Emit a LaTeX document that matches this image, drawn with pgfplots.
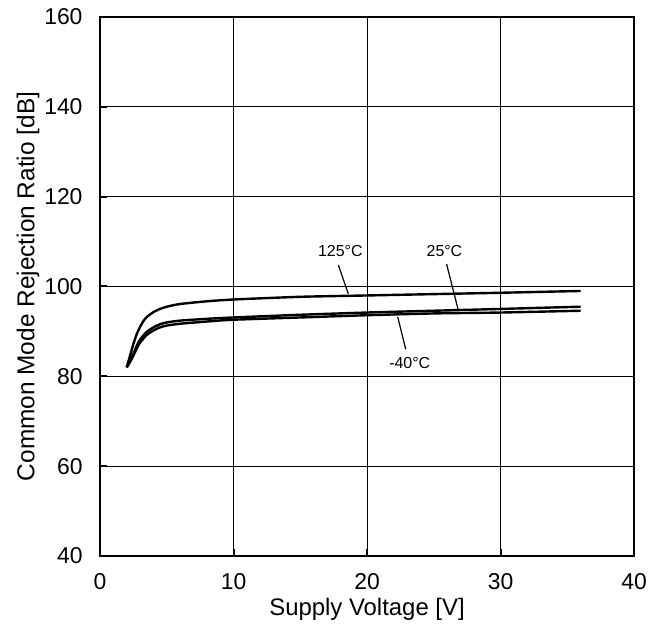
\documentclass[border=0pt]{standalone}
\usepackage{fontspec}
\setmainfont{Liberation Sans}
\usepackage{pgfplots}
\pgfplotsset{compat=1.18}

\pgfplotstableread{
V    cmrr
2    82
2.25 84.6
2.5  87.2
2.75 89.4
3    91.0
3.25 92.3
3.5  93.2
4    94.3
4.5  95.0
5    95.5
6    96.1
8    96.7
10   97.1
15   97.7
20   98.0
25   98.3
30   98.6
33   98.8
36   99.0
}\hot

\pgfplotstableread{
V    cmrr
2    82
2.25 83.4
2.5  85
2.75 86.8
3    88.2
3.5  89.9
4    90.9
4.5  91.6
5    92
6    92.4
8    92.8
10   93.1
15   93.7
20   94.2
25   94.6
30   95.0
36   95.5
}\room

\pgfplotstableread{
V    cmrr
2    82
2.25 83.2
2.5  84.6
2.75 86.2
3    87.5
3.5  89.2
4    90.2
4.5  90.9
5    91.3
6    91.7
8    92.2
10   92.6
15   93.1
20   93.6
25   94.0
30   94.2
36   94.6
}\cold

\begin{document}
\begin{tikzpicture}
\begin{axis}[
  scale only axis,
  width=534bp, height=539bp,
  xmin=0, xmax=40, ymin=40, ymax=160,
  xtick={0,10,...,40}, ytick={40,60,...,160},
  xtick pos=bottom, ytick pos=left,
  tick align=inside,
  major tick length=7bp,
  tick style={black, line width=2bp},
  grid=major,
  major grid style={black, line width=0.8bp},
  axis line style={black, line width=2.6bp},
  /pgf/number format/assume math mode=true,
  ticklabel style={font=\fontsize{23}{23}\selectfont},
  yticklabel style={xshift=-14bp},
  xticklabel style={yshift=-14bp},
  label style={font=\fontsize{24}{24}\selectfont},
  xlabel={Supply Voltage [V]},
  ylabel={Common Mode Rejection Ratio [dB]},
  xlabel style={yshift=-2bp},
  ylabel style={yshift=-2bp, font=\fontsize{24.5}{24.5}\selectfont},
  clip=false,
]
\addplot[black, line width=2.4bp, smooth, tension=0.4] table[x=V, y=cmrr] {\hot};
\addplot[black, line width=2.4bp, smooth, tension=0.4] table[x=V, y=cmrr] {\room};
\addplot[black, line width=2.4bp, smooth, tension=0.4] table[x=V, y=cmrr] {\cold};

\draw[line width=1.2bp] (axis cs:17.85,104.8) -- (axis cs:18.6,98.35);
\draw[line width=1.2bp] (axis cs:25.96,105) -- (axis cs:26.83,94.8);
\draw[line width=1.2bp] (axis cs:22.3,93.2) -- (axis cs:22.9,86.0);
\node[font=\fontsize{16}{16}\selectfont] at (axis cs:18.0,108) {125°C};
\node[font=\fontsize{16}{16}\selectfont] at (axis cs:25.8,107.8) {25°C};
\node[font=\fontsize{16}{16}\selectfont] at (axis cs:23.2,82.9) {-40°C};

\path (rel axis cs:-0.1873,-0.1391) rectangle (rel axis cs:1.0449,1.0315);
\end{axis}
\end{tikzpicture}
\end{document}
